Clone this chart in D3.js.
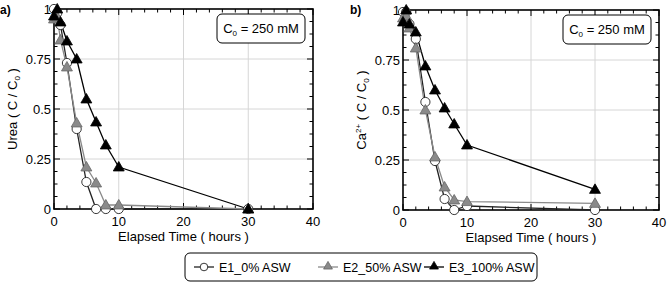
<!DOCTYPE html>
<html>
<head>
<meta charset="utf-8">
<script src="https://cdn.jsdelivr.net/npm/d3@7"></script>
<style>
  body { margin: 0; background: #fff; }
  svg { display: block; font-family: "Liberation Sans", Arial, sans-serif; }
</style>
</head>
<body>
<svg id="chart" width="668" height="283"></svg>
<script>
// sampling times (hours)
const times = [0, 0.5, 1, 2, 3.5, 5, 6.5, 8, 10, 30];

// panel a) urea, C / C0
const ureaE1 = [1.0, 0.98, 0.92, 0.73, 0.40, 0.135, 0.0, 0.0, 0.0, 0.0];
const ureaE2 = [0.95, 0.96, 0.845, 0.71, 0.43, 0.21, 0.13, 0.02, 0.02, 0.0];
const ureaE3 = [0.965, 1.0, 0.935, 0.84, 0.75, 0.55, 0.435, 0.32, 0.21, 0.0];

// panel b) calcium, C / C0
const caE1 = [0.99, 0.99, 0.93, 0.855, 0.54, 0.245, 0.055, 0.0, 0.02, 0.0];
const caE2 = [0.96, 0.97, 0.91, 0.81, 0.50, 0.265, 0.115, 0.05, 0.042, 0.033];
const caE3 = [0.94, 1.0, 0.93, 0.89, 0.72, 0.60, 0.51, 0.43, 0.325, 0.103];

const seriesNames = ["E1_0% ASW", "E2_50% ASW", "E3_100% ASW"];
const xTicks = [0, 10, 20, 30, 40];
const yTicks = [0, 0.25, 0.5, 0.75, 1];
const yTickLabels = ["0", "0.25", "0.5", "0.75", "1"];

const styles = [
  { line: "#222", fill: "#fff", stroke: "#222", shape: "circle" },
  { line: "#8a8a8a", fill: "#8a8a8a", stroke: "#666", shape: "tri" },
  { line: "#000", fill: "#000", stroke: "#000", shape: "tri" }
];

const svg = d3.select("#chart");

function drawMarker(g, shape, st, x, y) {
  if (shape === "circle") {
    g.append("circle").attr("cx", x).attr("cy", y).attr("r", 4.6)
      .attr("fill", st.fill).attr("stroke", st.stroke).attr("stroke-width", 0.9);
  } else {
    const s = d3.symbol().type(d3.symbolTriangle).size(52);
    g.append("path").attr("d", s())
      .attr("transform", `translate(${x},${y + 0.8})`)
      .attr("fill", st.fill).attr("stroke", st.stroke).attr("stroke-width", 0.8);
  }
}

function panel(opts) {
  const { left, right, top, bottom, series, label, ytitle } = opts;
  const x = d3.scaleLinear().domain([0, 40]).range([left, right]);
  const y = d3.scaleLinear().domain([0, 1]).range([bottom, top]);
  const g = svg.append("g");

  // grid
  g.selectAll(".gx").data(xTicks.slice(1, -1)).enter().append("line")
    .attr("x1", d => x(d)).attr("x2", d => x(d)).attr("y1", top).attr("y2", bottom)
    .attr("stroke", "#d6d6d6").attr("stroke-width", 1);
  g.selectAll(".gy").data(yTicks.slice(1, -1)).enter().append("line")
    .attr("y1", d => y(d)).attr("y2", d => y(d)).attr("x1", left).attr("x2", right)
    .attr("stroke", "#d6d6d6").attr("stroke-width", 1);

  // ticks (inward, all four sides)
  const xMinor = d3.range(0, 40.001, 2);
  const yMinor = d3.range(0, 1.0001, 0.0625);
  xMinor.forEach(v => {
    const major = v % 10 === 0;
    const len = major ? 6 : 3.5;
    g.append("line").attr("x1", x(v)).attr("x2", x(v)).attr("y1", bottom).attr("y2", bottom - len)
      .attr("stroke", "#000").attr("stroke-width", 1);
    g.append("line").attr("x1", x(v)).attr("x2", x(v)).attr("y1", top).attr("y2", top + len)
      .attr("stroke", "#000").attr("stroke-width", 1);
  });
  yMinor.forEach(v => {
    const major = Math.abs(v * 4 - Math.round(v * 4)) < 1e-6;
    const len = major ? 6 : 3.5;
    g.append("line").attr("y1", y(v)).attr("y2", y(v)).attr("x1", left).attr("x2", left + len)
      .attr("stroke", "#000").attr("stroke-width", 1);
    g.append("line").attr("y1", y(v)).attr("y2", y(v)).attr("x1", right).attr("x2", right - len)
      .attr("stroke", "#000").attr("stroke-width", 1);
  });

  // frame
  g.append("rect").attr("x", left).attr("y", top).attr("width", right - left).attr("height", bottom - top)
    .attr("fill", "none").attr("stroke", "#000").attr("stroke-width", 1.6);

  // tick labels
  g.selectAll(".xl").data(xTicks).enter().append("text")
    .attr("x", d => x(d)).attr("y", bottom + 16.5).attr("text-anchor", "middle")
    .attr("font-size", 13).text(d => d);
  g.selectAll(".yl").data(yTicks).enter().append("text")
    .attr("x", left - 3).attr("y", d => y(d) + 4.5).attr("text-anchor", "end")
    .attr("font-size", 13).text((d, i) => yTickLabels[i]);

  // axis titles
  g.append("text").attr("x", (left + right) / 2).attr("y", bottom + 32)
    .attr("text-anchor", "middle").attr("font-size", 13).text("Elapsed Time ( hours )");
  const yt = g.append("text")
    .attr("transform", `translate(${left - 37},${(top + bottom) / 2}) rotate(-90)`)
    .attr("text-anchor", "middle").attr("font-size", 13);
  ytitle(yt);

  // panel label
  g.append("text").attr("x", opts.labelX).attr("y", 14).attr("font-size", 12)
    .attr("font-weight", "bold").text(label);

  // annotation box
  const bx = right - 96, by = top + 5, bw = 88, bh = 29;
  g.append("rect").attr("x", bx).attr("y", by).attr("width", bw).attr("height", bh)
    .attr("rx", 5).attr("fill", "#fff").attr("stroke", "#000").attr("stroke-width", 1);
  const at = g.append("text").attr("x", bx + bw / 2).attr("y", by + 19)
    .attr("text-anchor", "middle").attr("font-size", 13);
  at.append("tspan").text("C");
  at.append("tspan").attr("font-size", 8).attr("dy", 3).text("0");
  at.append("tspan").attr("dy", -3).text(" = 250 mM");

  // series
  const line = d3.line().x((d, i) => x(times[i])).y(d => y(d));
  series.forEach((vals, k) => {
    const st = styles[k];
    g.append("path").attr("d", line(vals)).attr("fill", "none")
      .attr("stroke", st.line).attr("stroke-width", 1.3);
  });
  series.forEach((vals, k) => {
    const st = styles[k];
    vals.forEach((v, i) => drawMarker(g, st.shape, st, x(times[i]), y(v)));
  });
}

panel({
  left: 54, right: 313, top: 9, bottom: 209, labelX: 0, label: "a)",
  series: [ureaE1, ureaE2, ureaE3],
  ytitle: t => {
    t.append("tspan").text("Urea ( C / C");
    t.append("tspan").attr("font-size", 8).attr("dy", 3).text("0");
    t.append("tspan").attr("dy", -3).text(" )");
  }
});

panel({
  left: 403, right: 659, top: 10, bottom: 210, labelX: 350, label: "b)",
  series: [caE1, caE2, caE3],
  ytitle: t => {
    t.append("tspan").text("Ca");
    t.append("tspan").attr("font-size", 8).attr("dy", -5).text("2+");
    t.append("tspan").attr("dy", 5).text(" ( C / C");
    t.append("tspan").attr("font-size", 8).attr("dy", 3).text("0");
    t.append("tspan").attr("dy", -3).text(" )");
  }
});

// legend
const lg = svg.append("g");
lg.append("rect").attr("x", 185).attr("y", 253).attr("width", 352).attr("height", 28)
  .attr("rx", 5).attr("fill", "#fff").attr("stroke", "#000").attr("stroke-width", 1);
const legX = [194, 318, 424];
seriesNames.forEach((name, k) => {
  const st = styles[k];
  const x0 = legX[k], yc = 267;
  lg.append("line").attr("x1", x0).attr("x2", x0 + 20).attr("y1", yc).attr("y2", yc)
    .attr("stroke", st.line).attr("stroke-width", 1.3);
  if (st.shape === "circle") {
    lg.append("circle").attr("cx", x0 + 10).attr("cy", yc).attr("r", 3.8)
      .attr("fill", st.fill).attr("stroke", st.stroke).attr("stroke-width", 0.9);
  } else {
    lg.append("path").attr("d", d3.symbol().type(d3.symbolTriangle).size(34)())
      .attr("transform", `translate(${x0 + 10},${yc - 0.5})`)
      .attr("fill", st.fill).attr("stroke", st.stroke).attr("stroke-width", 0.8);
  }
  lg.append("text").attr("x", x0 + 25).attr("y", yc + 4.5).attr("font-size", 12.5).text(name);
});
</script>
</body>
</html>
